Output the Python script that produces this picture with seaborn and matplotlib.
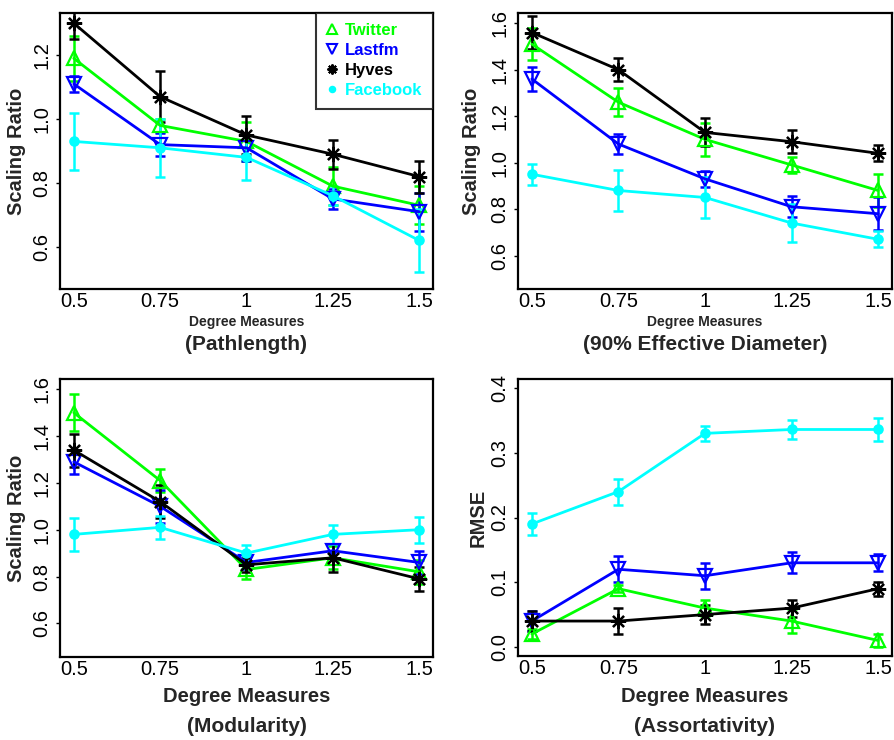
import numpy as np
import pandas as pd
import matplotlib
matplotlib.use("Agg")
import matplotlib.pyplot as plt
from matplotlib.lines import Line2D
import seaborn as sns

sns.set_theme(style="ticks")
plt.rcParams['font.family'] = ['Liberation Sans', 'DejaVu Sans']

# ---------------- data ----------------
degree = [0.5, 0.75, 1.0, 1.25, 1.5]
degree_labels = ["0.5", "0.75", "1", "1.25", "1.5"]
series = ["Twitter", "Lastfm", "Hyves", "Facebook"]

# Pathlength
path_twitter = [1.19, 0.98, 0.93, 0.79, 0.73]
path_twitter_err = [0.07, 0.02, 0.06, 0.06, 0.06]
path_lastfm = [1.11, 0.92, 0.91, 0.75, 0.71]
path_lastfm_err = [0.025, 0.035, 0.04, 0.03, 0.06]
path_hyves = [1.30, 1.07, 0.95, 0.89, 0.82]
path_hyves_err = [0.05, 0.08, 0.06, 0.045, 0.05]
path_facebook = [0.93, 0.91, 0.88, 0.76, 0.62]
path_facebook_err = [0.09, 0.09, 0.07, 0.03, 0.10]

# 90% Effective Diameter
diam_twitter = [1.51, 1.26, 1.10, 0.99, 0.88]
diam_twitter_err = [0.07, 0.06, 0.07, 0.035, 0.07]
diam_lastfm = [1.36, 1.08, 0.93, 0.81, 0.78]
diam_lastfm_err = [0.05, 0.045, 0.035, 0.045, 0.07]
diam_hyves = [1.56, 1.40, 1.13, 1.09, 1.04]
diam_hyves_err = [0.07, 0.05, 0.06, 0.05, 0.035]
diam_facebook = [0.95, 0.88, 0.85, 0.74, 0.67]
diam_facebook_err = [0.045, 0.09, 0.09, 0.08, 0.035]

# Modularity
mod_twitter = [1.50, 1.21, 0.83, 0.88, 0.82]
mod_twitter_err = [0.08, 0.05, 0.04, 0.05, 0.05]
mod_lastfm = [1.29, 1.10, 0.86, 0.91, 0.86]
mod_lastfm_err = [0.05, 0.07, 0.03, 0.03, 0.05]
mod_hyves = [1.34, 1.12, 0.85, 0.88, 0.79]
mod_hyves_err = [0.07, 0.07, 0.03, 0.06, 0.05]
mod_facebook = [0.98, 1.01, 0.90, 0.98, 1.00]
mod_facebook_err = [0.07, 0.05, 0.035, 0.04, 0.055]

# Assortativity
asr_twitter = [0.02, 0.09, 0.06, 0.04, 0.01]
asr_twitter_err = [0.008, 0.005, 0.012, 0.018, 0.01]
asr_lastfm = [0.04, 0.12, 0.11, 0.13, 0.13]
asr_lastfm_err = [0.015, 0.02, 0.02, 0.016, 0.013]
asr_hyves = [0.04, 0.04, 0.05, 0.06, 0.09]
asr_hyves_err = [0.016, 0.02, 0.015, 0.013, 0.011]
asr_facebook = [0.19, 0.24, 0.33, 0.336, 0.336]
asr_facebook_err = [0.017, 0.02, 0.012, 0.014, 0.018]

# ---------------- styles ----------------
colors = {"Twitter": "#00FF00", "Lastfm": "#0000FF", "Hyves": "#000000", "Facebook": "#00FFFF"}
markers = {"Twitter": "^", "Lastfm": "v", "Hyves": (8, 2, 0), "Facebook": "o"}
msize = {"Twitter": 10, "Lastfm": 10, "Hyves": 11, "Facebook": 6}

panels = [
    dict(vals=[path_twitter, path_lastfm, path_hyves, path_facebook],
         errs=[path_twitter_err, path_lastfm_err, path_hyves_err, path_facebook_err],
         ylim=(0.468, 1.332), yticks=[0.6, 0.8, 1.0, 1.2], ylabel="Scaling Ratio",
         sub="(Pathlength)", small=True, rect=[60, 13, 433, 289], fmt="%.1f"),
    dict(vals=[diam_twitter, diam_lastfm, diam_hyves, diam_facebook],
         errs=[diam_twitter_err, diam_lastfm_err, diam_hyves_err, diam_facebook_err],
         ylim=(0.456, 1.644), yticks=[0.6, 0.8, 1.0, 1.2, 1.4, 1.6], ylabel="Scaling Ratio",
         sub="(90% Effective Diameter)", small=True, rect=[518, 13, 892, 289], fmt="%.1f"),
    dict(vals=[mod_twitter, mod_lastfm, mod_hyves, mod_facebook],
         errs=[mod_twitter_err, mod_lastfm_err, mod_hyves_err, mod_facebook_err],
         ylim=(0.456, 1.644), yticks=[0.6, 0.8, 1.0, 1.2, 1.4, 1.6], ylabel="Scaling Ratio",
         sub="(Modularity)", small=False, rect=[60, 379, 433, 657], fmt="%.1f"),
    dict(vals=[asr_twitter, asr_lastfm, asr_hyves, asr_facebook],
         errs=[asr_twitter_err, asr_lastfm_err, asr_hyves_err, asr_facebook_err],
         ylim=(-0.014, 0.414), yticks=[0.0, 0.1, 0.2, 0.3, 0.4], ylabel="RMSE",
         sub="(Assortativity)", small=False, rect=[518, 379, 892, 656], fmt="%.1f"),
]

W, H = 895, 740
fig = plt.figure(figsize=(W / 100, H / 100), dpi=100)
fig.patch.set_facecolor("white")

for i, p in enumerate(panels):
    l, t, r, b = p["rect"]
    ax = fig.add_axes([l / W, (H - b) / H, (r - l) / W, (b - t) / H])
    ax.set_facecolor("white")
    for name, v, e in zip(series, p["vals"], p["errs"]):
        df = pd.DataFrame({"x": degree, "y": v})
        c = colors[name]
        ax.errorbar(degree, v, yerr=e, fmt="none", ecolor=c, elinewidth=1.8,
                    capsize=3.6, capthick=1.8, zorder=2)
        kw = dict(color=c, linewidth=2.0, marker=markers[name], markersize=msize[name],
                  markeredgecolor=c, markeredgewidth=1.6)
        if name in ("Twitter", "Lastfm"):
            kw["markerfacecolor"] = "none"
        else:
            kw["markerfacecolor"] = c
        sns.lineplot(data=df, x="x", y="y", ax=ax, estimator=None, sort=False, zorder=3, **kw)
    ax.set_xlim(0.46, 1.54)
    ax.set_ylim(*p["ylim"])
    ax.set_xticks(degree)
    ax.set_xticklabels(degree_labels)
    ax.set_yticks(p["yticks"])
    ax.set_yticklabels([p["fmt"] % v for v in p["yticks"]], rotation=90, va="center")
    ax.tick_params(axis="x", length=0, pad=2, labelsize=14.5, colors="black")
    ax.tick_params(axis="y", length=3, width=1, pad=3, labelsize=14.5, colors="black")
    for s in ax.spines.values():
        s.set_visible(True)
        s.set_color("black")
        s.set_linewidth(1.6)
    ax.set_xlabel("")
    ax.set_ylabel("")
    hgt = b - t
    wid = r - l
    # y label
    ylx = (17 if l < 100 else (472 if p["ylabel"] != "RMSE" else 478))
    ax.text((ylx - l) / wid, 0.5, p["ylabel"], transform=ax.transAxes, rotation=90,
            ha="center", va="center", fontsize=14.5, fontweight="bold")
    if p["small"]:
        ax.text(0.5, (b - 322) / hgt, "Degree Measures", transform=ax.transAxes,
                ha="center", va="center", fontsize=10, fontweight="bold")
        ax.text(0.5, (b - 344) / hgt, p["sub"], transform=ax.transAxes,
                ha="center", va="center", fontsize=15, fontweight="bold")
    else:
        ax.text(0.5, (b - 696) / hgt, "Degree Measures", transform=ax.transAxes,
                ha="center", va="center", fontsize=14.5, fontweight="bold")
        ax.text(0.5, (b - 726) / hgt, p["sub"], transform=ax.transAxes,
                ha="center", va="center", fontsize=15, fontweight="bold")
    if i == 0:
        handles = []
        for name in series:
            c = colors[name]
            h = Line2D([], [], linestyle="none", marker=markers[name],
                       markersize=msize[name] * 0.65, markeredgecolor=c,
                       markerfacecolor=("none" if name in ("Twitter", "Lastfm") else c),
                       markeredgewidth=1.5)
            handles.append(h)
        leg = ax.legend(handles, series, loc="upper right", bbox_to_anchor=(1.0, 1.0),
                        borderaxespad=0.0, frameon=True, fancybox=False,
                        prop={"size": 12, "weight": "bold"}, handlelength=0.7,
                        handletextpad=0.45, labelspacing=0.3, borderpad=0.62)
        leg.get_frame().set_edgecolor("black")
        leg.get_frame().set_linewidth(1.5)
        for txt, name in zip(leg.get_texts(), series):
            txt.set_color(colors[name])

fig.savefig("out.png", dpi=100, facecolor="white")
